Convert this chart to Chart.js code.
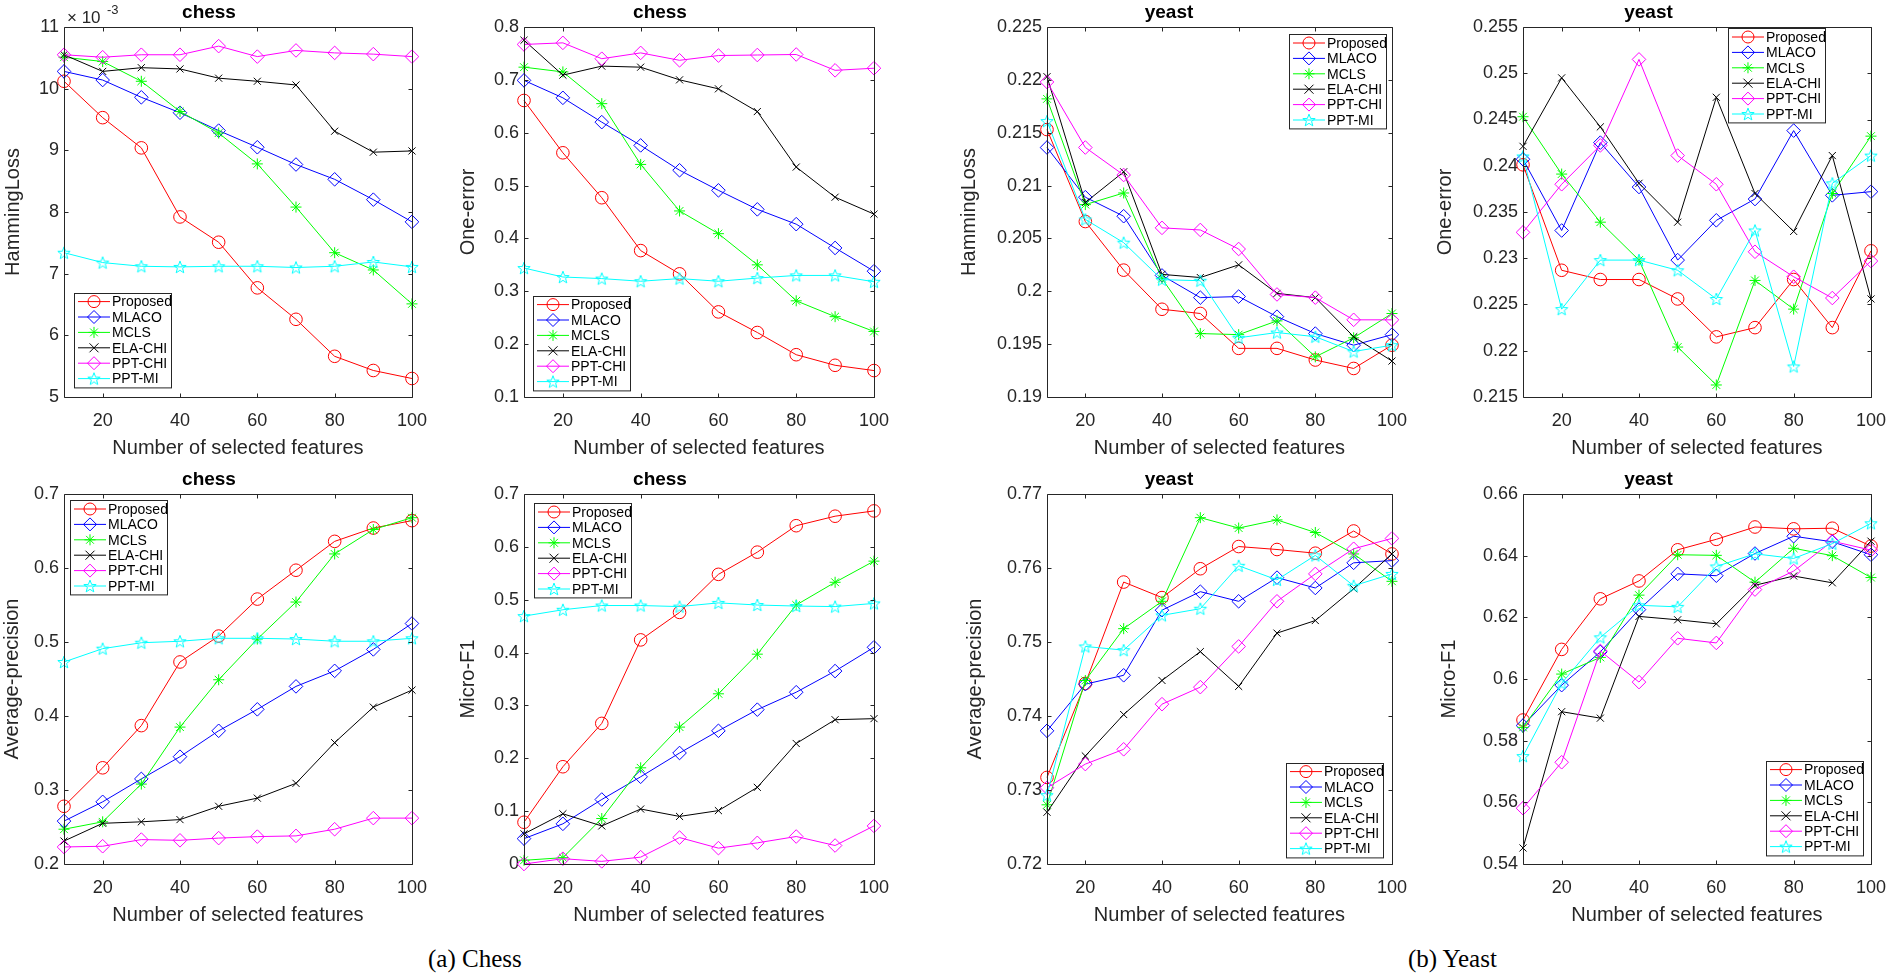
<!DOCTYPE html>
<html>
<head>
<meta charset="utf-8">
<script src="https://cdn.jsdelivr.net/npm/chart.js@4.4.1/dist/chart.umd.min.js"></script>
<style>
  body { margin: 0; background: #fff; width: 1902px; height: 977px; position: relative; overflow: hidden; }
  .panel { position: absolute; }
  .caption { position: absolute; font-family: "Liberation Serif", "Times New Roman", serif; font-size: 25px; color: #000; white-space: nowrap; }
</style>
</head>
<body>
<div class="panel"><canvas id="c1"></canvas></div>
<div class="panel"><canvas id="c2"></canvas></div>
<div class="panel"><canvas id="c3"></canvas></div>
<div class="panel"><canvas id="c4"></canvas></div>
<div class="panel"><canvas id="c5"></canvas></div>
<div class="panel"><canvas id="c6"></canvas></div>
<div class="panel"><canvas id="c7"></canvas></div>
<div class="panel"><canvas id="c8"></canvas></div>
<div class="caption" id="capA">(a) Chess</div>
<div class="caption" id="capB">(b) Yeast</div>
<script>
// ---- data ----
const features = [10, 20, 30, 40, 50, 60, 70, 80, 90, 100];
const xTicks = [20, 40, 60, 80, 100];
const methods = ['Proposed', 'MLACO', 'MCLS', 'ELA-CHI', 'PPT-CHI', 'PPT-MI'];

// chess, HammingLoss (axis shown as x 10^-3)
const chessHamming = [
  [10.12, 9.53, 9.04, 7.92, 7.51, 6.77, 6.26, 5.66, 5.43, 5.30],
  [10.28, 10.14, 9.86, 9.61, 9.32, 9.05, 8.77, 8.53, 8.20, 7.84],
  [10.51, 10.44, 10.12, 9.63, 9.28, 8.78, 8.08, 7.34, 7.06, 6.51],
  [10.55, 10.28, 10.34, 10.32, 10.17, 10.12, 10.06, 9.31, 8.97, 8.99],
  [10.55, 10.51, 10.55, 10.55, 10.69, 10.52, 10.62, 10.58, 10.56, 10.52],
  [7.34, 7.18, 7.12, 7.11, 7.12, 7.12, 7.10, 7.12, 7.19, 7.11]
];
// chess, One-error
const chessOneError = [
  [0.661, 0.562, 0.477, 0.377, 0.333, 0.261, 0.222, 0.180, 0.160, 0.150],
  [0.699, 0.666, 0.620, 0.576, 0.529, 0.491, 0.455, 0.427, 0.382, 0.338],
  [0.724, 0.715, 0.655, 0.540, 0.452, 0.409, 0.350, 0.282, 0.252, 0.224],
  [0.775, 0.709, 0.726, 0.724, 0.700, 0.683, 0.640, 0.535, 0.478, 0.446],
  [0.767, 0.770, 0.740, 0.751, 0.737, 0.746, 0.747, 0.748, 0.718, 0.722],
  [0.344, 0.327, 0.324, 0.319, 0.324, 0.319, 0.325, 0.330, 0.330, 0.318]
];
// yeast, HammingLoss
const yeastHamming = [
  [0.2153, 0.2066, 0.2020, 0.1983, 0.1979, 0.1946, 0.1946, 0.1935, 0.1927, 0.1949],
  [0.2136, 0.2089, 0.2071, 0.2015, 0.1994, 0.1995, 0.1976, 0.1960, 0.1949, 0.1959],
  [0.2182, 0.2082, 0.2093, 0.2012, 0.1960, 0.1959, 0.1972, 0.1938, 0.1956, 0.1979],
  [0.2203, 0.2084, 0.2113, 0.2016, 0.2013, 0.2025, 0.1998, 0.1994, 0.1957, 0.1934],
  [0.2198, 0.2136, 0.2110, 0.2060, 0.2058, 0.2040, 0.1997, 0.1994, 0.1973, 0.1973],
  [0.2161, 0.2068, 0.2046, 0.2011, 0.2010, 0.1956, 0.1961, 0.1957, 0.1943, 0.1949]
];
// yeast, One-error
const yeastOneError = [
  [0.2401, 0.2287, 0.2277, 0.2277, 0.2256, 0.2215, 0.2225, 0.2277, 0.2225, 0.2308],
  [0.2407, 0.2330, 0.2425, 0.2377, 0.2298, 0.2341, 0.2364, 0.2438, 0.2368, 0.2372],
  [0.2453, 0.2391, 0.2339, 0.2298, 0.2204, 0.2163, 0.2276, 0.2245, 0.2370, 0.2432],
  [0.2421, 0.2495, 0.2442, 0.2381, 0.2339, 0.2474, 0.2370, 0.2329, 0.2411, 0.2256],
  [0.2328, 0.2380, 0.2422, 0.2515, 0.2411, 0.2380, 0.2307, 0.2280, 0.2257, 0.2297],
  [0.2410, 0.2245, 0.2298, 0.2298, 0.2287, 0.2256, 0.2330, 0.2183, 0.2381, 0.2411]
];
// chess, Average-precision
const chessAvgPrec = [
  [0.278, 0.330, 0.387, 0.473, 0.508, 0.558, 0.597, 0.636, 0.654, 0.664],
  [0.258, 0.284, 0.315, 0.345, 0.380, 0.409, 0.440, 0.461, 0.490, 0.525],
  [0.247, 0.257, 0.308, 0.385, 0.449, 0.504, 0.554, 0.619, 0.652, 0.668],
  [0.231, 0.255, 0.257, 0.260, 0.278, 0.289, 0.309, 0.364, 0.412, 0.435],
  [0.223, 0.224, 0.233, 0.232, 0.235, 0.237, 0.238, 0.247, 0.262, 0.262],
  [0.473, 0.491, 0.499, 0.501, 0.505, 0.505, 0.504, 0.501, 0.501, 0.505]
];
// chess, Micro-F1
const chessMicroF1 = [
  [0.079, 0.184, 0.266, 0.424, 0.476, 0.548, 0.590, 0.640, 0.658, 0.668],
  [0.048, 0.076, 0.122, 0.165, 0.210, 0.252, 0.292, 0.325, 0.365, 0.410],
  [0.007, 0.012, 0.086, 0.182, 0.259, 0.322, 0.397, 0.490, 0.533, 0.573],
  [0.057, 0.095, 0.072, 0.104, 0.090, 0.101, 0.145, 0.228, 0.273, 0.275],
  [0.000, 0.010, 0.005, 0.013, 0.050, 0.030, 0.040, 0.052, 0.035, 0.072],
  [0.469, 0.481, 0.489, 0.489, 0.487, 0.494, 0.490, 0.488, 0.487, 0.493]
];
// yeast, Average-precision
const yeastAvgPrec = [
  [0.7317, 0.7444, 0.7581, 0.7560, 0.7599, 0.7629, 0.7625, 0.7620, 0.7650, 0.7619],
  [0.7380, 0.7443, 0.7455, 0.7543, 0.7568, 0.7555, 0.7587, 0.7573, 0.7607, 0.7610],
  [0.7280, 0.7448, 0.7518, 0.7555, 0.7668, 0.7654, 0.7665, 0.7648, 0.7619, 0.7582],
  [0.7270, 0.7346, 0.7402, 0.7448, 0.7487, 0.7440, 0.7512, 0.7529, 0.7572, 0.7619],
  [0.7303, 0.7335, 0.7355, 0.7416, 0.7439, 0.7494, 0.7555, 0.7592, 0.7626, 0.7640],
  [0.7293, 0.7494, 0.7489, 0.7536, 0.7545, 0.7603, 0.7584, 0.7617, 0.7576, 0.7592]
];
// yeast, Micro-F1
const yeastMicroF1 = [
  [0.5867, 0.6096, 0.6260, 0.6318, 0.6419, 0.6453, 0.6493, 0.6487, 0.6489, 0.6431],
  [0.5849, 0.5980, 0.6088, 0.6225, 0.6341, 0.6335, 0.6407, 0.6463, 0.6445, 0.6403],
  [0.5843, 0.6016, 0.6070, 0.6272, 0.6403, 0.6401, 0.6314, 0.6424, 0.6400, 0.6329],
  [0.5452, 0.5894, 0.5873, 0.6203, 0.6192, 0.6179, 0.6304, 0.6334, 0.6312, 0.6447],
  [0.5581, 0.5730, 0.6091, 0.5990, 0.6132, 0.6117, 0.6290, 0.6350, 0.6447, 0.6418],
  [0.5750, 0.5986, 0.6135, 0.6239, 0.6234, 0.6365, 0.6406, 0.6391, 0.6439, 0.6505]
];

// y tick labels of each panel
const yTicksChessHamming = [5, 6, 7, 8, 9, 10, 11];
const yTicksChessOneError = [0.1, 0.2, 0.3, 0.4, 0.5, 0.6, 0.7, 0.8];
const yTicksYeastHamming = [0.19, 0.195, 0.2, 0.205, 0.21, 0.215, 0.22, 0.225];
const yTicksYeastOneError = [0.215, 0.22, 0.225, 0.23, 0.235, 0.24, 0.245, 0.25, 0.255];
const yTicksChessAvgPrec = [0.2, 0.3, 0.4, 0.5, 0.6, 0.7];
const yTicksChessMicroF1 = [0, 0.1, 0.2, 0.3, 0.4, 0.5, 0.6, 0.7];
const yTicksYeastAvgPrec = [0.72, 0.73, 0.74, 0.75, 0.76, 0.77];
const yTicksYeastMicroF1 = [0.54, 0.56, 0.58, 0.6, 0.62, 0.64, 0.66];

// ---- styling ----
const FONT = '"Liberation Sans", Arial, Helvetica, sans-serif';
const AXIS_COLOR = '#262626';
const colors = ['#ff0000', '#0000ff', '#00ff00', '#000000', '#ff00ff', '#00ffff'];
const markerKinds = ['circle', 'diamond', 'asterisk', 'x', 'diamond', 'pentagram'];

// pentagram marker drawn once on a small canvas
function makePentagram(color, r) {
    const c = document.createElement('canvas');
    const s = Math.ceil(r * 2 + 3);
    c.width = s; c.height = s;
    const g = c.getContext('2d');
    g.strokeStyle = color;
    g.lineWidth = 1;
    g.beginPath();
    for (let k = 0; k < 10; k++) {
        const rr = k % 2 ? r * 0.42 : r;
        const ang = -Math.PI / 2 + k * Math.PI / 5;
        const px = s / 2 + rr * Math.cos(ang);
        const py = s / 2 + rr * Math.sin(ang) + 0.6;
        if (k === 0) g.moveTo(px, py); else g.lineTo(px, py);
    }
    g.closePath();
    g.stroke();
    return c;
}
const pentagramImg = makePentagram('#00ffff', 6.5);

function pointStyleFor(kind) {
    if (kind === 'circle') return { pointStyle: 'circle', pointRadius: 6.3 };
    if (kind === 'diamond') return { pointStyle: 'rectRot', pointRadius: 6.8 };
    if (kind === 'asterisk') return { pointStyle: 'star', pointRadius: 5.5 };
    if (kind === 'x') return { pointStyle: 'crossRot', pointRadius: 5 };
    return { pointStyle: pentagramImg, pointRadius: 6.5 };
}

// marker for the boxed legend, same shapes as the points
function drawMarker(ctx, kind, x, y, color) {
    ctx.save();
    ctx.strokeStyle = color;
    ctx.lineWidth = 1;
    ctx.beginPath();
    if (kind === 'circle') {
        ctx.arc(x, y, 6, 0, Math.PI * 2);
    } else if (kind === 'diamond') {
        ctx.moveTo(x, y - 6.5); ctx.lineTo(x + 6.5, y); ctx.lineTo(x, y + 6.5); ctx.lineTo(x - 6.5, y); ctx.closePath();
    } else if (kind === 'asterisk') {
        const r = 5.5, d = r * Math.SQRT1_2;
        ctx.moveTo(x - r, y); ctx.lineTo(x + r, y); ctx.moveTo(x, y - r); ctx.lineTo(x, y + r);
        ctx.moveTo(x - d, y - d); ctx.lineTo(x + d, y + d); ctx.moveTo(x - d, y + d); ctx.lineTo(x + d, y - d);
    } else if (kind === 'x') {
        const d = 4.5;
        ctx.moveTo(x - d, y - d); ctx.lineTo(x + d, y + d); ctx.moveTo(x - d, y + d); ctx.lineTo(x + d, y - d);
    } else {
        ctx.drawImage(pentagramImg, x - pentagramImg.width / 2, y - pentagramImg.height / 2);
    }
    ctx.stroke();
    ctx.restore();
}

// full axes box with inward tick marks (MATLAB style)
const axesBox = {
    id: 'axesBox',
    afterDatasetsDraw(chart) {
        const { ctx, chartArea: a, scales: { x, y } } = chart;
        const L = Math.round(a.left) + 0.5, R = Math.round(a.right) + 0.5;
        const T = Math.round(a.top) + 0.5, B = Math.round(a.bottom) + 0.5;
        ctx.save();
        ctx.strokeStyle = AXIS_COLOR;
        ctx.lineWidth = 1;
        ctx.beginPath();
        ctx.rect(L, T, R - L, B - T);
        x.ticks.forEach(t => {
            const px = Math.round(x.getPixelForValue(t.value)) + 0.5;
            ctx.moveTo(px, B); ctx.lineTo(px, B - 4);
            ctx.moveTo(px, T); ctx.lineTo(px, T + 4);
        });
        y.ticks.forEach(t => {
            const py = Math.round(y.getPixelForValue(t.value)) + 0.5;
            ctx.moveTo(L, py); ctx.lineTo(L + 4, py);
            ctx.moveTo(R, py); ctx.lineTo(R - 4, py);
        });
        ctx.stroke();
        ctx.restore();
    }
};

// boxed legend placed inside a corner of the axes
const boxLegend = {
    id: 'boxLegend',
    afterDraw(chart, args, opts) {
        const { ctx, chartArea: a } = chart;
        const w = 97, rowH = 15.4, h = rowH * 6 + 2;
        const left = opts.corner[1] === 'l' ? a.left + opts.dx : a.right - opts.dx - w;
        const top = opts.corner[0] === 't' ? a.top + opts.dy : a.bottom - opts.dy - h;
        ctx.save();
        ctx.fillStyle = '#fff';
        ctx.fillRect(left, top, w, h);
        ctx.strokeStyle = AXIS_COLOR;
        ctx.lineWidth = 1;
        ctx.strokeRect(Math.round(left) + 0.5, Math.round(top) + 0.5, w, h);
        ctx.font = '14px ' + FONT;
        ctx.textBaseline = 'middle';
        ctx.fillStyle = '#000';
        chart.data.datasets.forEach((ds, i) => {
            const cy = top + 9 + i * rowH;
            ctx.beginPath();
            ctx.strokeStyle = ds.borderColor;
            ctx.moveTo(left + 4, cy); ctx.lineTo(left + 36, cy);
            ctx.stroke();
            drawMarker(ctx, markerKinds[i], left + 20, cy, ds.borderColor);
            ctx.fillStyle = '#000';
            ctx.fillText(ds.label, left + 38, cy + 1);
        });
        ctx.restore();
    }
};

// "x 10^-3" multiplier above the first axes
const expLabel = {
    id: 'expLabel',
    afterDraw(chart, args, opts) {
        if (!opts.show) return;
        const { ctx, chartArea: a } = chart;
        ctx.save();
        ctx.fillStyle = AXIS_COLOR;
        ctx.textBaseline = 'alphabetic';
        ctx.font = '17px ' + FONT;
        ctx.fillText('\u00d7 10', a.left + 3, a.top - 4);
        ctx.font = '13px ' + FONT;
        ctx.fillText('-3', a.left + 43, a.top - 13);
        ctx.restore();
    }
};

function fmtTick(v) {
    return String(+v.toFixed(4));
}

// ---- panel layout ----
const ROW1_TOP = 0, ROW2_TOP = 467, CANVAS_H = 460;
const panels = [
    { id: 'c1', left: 0,    top: ROW1_TOP, yw: 64,  yPad: 1,  plotW: 354, title: 'chess', yLabel: 'HammingLoss',       data: chessHamming,  yTicks: yTicksChessHamming,  legend: { corner: 'bl', dx: 10, dy: 10 }, exp: true },
    { id: 'c2', left: 440,  top: ROW1_TOP, yw: 84,  yPad: 16, plotW: 356, title: 'chess', yLabel: 'One-error',         data: chessOneError, yTicks: yTicksChessOneError, legend: { corner: 'bl', dx: 9,  dy: 7 } },
    { id: 'c3', left: 940,  top: ROW1_TOP, yw: 107, yPad: 17, plotW: 351, title: 'yeast', yLabel: 'HammingLoss',       data: yeastHamming,  yTicks: yTicksYeastHamming,  legend: { corner: 'tr', dx: 6,  dy: 7 } },
    { id: 'c4', left: 1420, top: ROW1_TOP, yw: 103, yPad: 13, plotW: 354, title: 'yeast', yLabel: 'One-error',         data: yeastOneError, yTicks: yTicksYeastOneError, legend: { corner: 'tr', dx: 46, dy: 1 } },
    { id: 'c5', left: 0,    top: ROW2_TOP, yw: 64,  yPad: 0,  plotW: 354, title: 'chess', yLabel: 'Average-precision', data: chessAvgPrec,  yTicks: yTicksChessAvgPrec,  legend: { corner: 'tl', dx: 6,  dy: 6 } },
    { id: 'c6', left: 440,  top: ROW2_TOP, yw: 84,  yPad: 16, plotW: 356, title: 'chess', yLabel: 'Micro-F1',          data: chessMicroF1,  yTicks: yTicksChessMicroF1,  legend: { corner: 'tl', dx: 10, dy: 9 } },
    { id: 'c7', left: 940,  top: ROW2_TOP, yw: 107, yPad: 23, plotW: 351, title: 'yeast', yLabel: 'Average-precision', data: yeastAvgPrec,  yTicks: yTicksYeastAvgPrec,  legend: { corner: 'br', dx: 9,  dy: 7 } },
    { id: 'c8', left: 1420, top: ROW2_TOP, yw: 103, yPad: 17, plotW: 354, title: 'yeast', yLabel: 'Micro-F1',          data: yeastMicroF1,  yTicks: yTicksYeastMicroF1,  legend: { corner: 'br', dx: 8,  dy: 9 } }
];
const PAD_RIGHT = 22, X_AXIS_H = 63;

function makeChart(p) {
    const canvas = document.getElementById(p.id);
    const wrap = canvas.parentElement;
    const width = p.yw + p.plotW + PAD_RIGHT;
    wrap.style.left = p.left + 'px';
    wrap.style.top = p.top + 'px';
    canvas.width = width;
    canvas.height = CANVAS_H;
    canvas.style.width = width + 'px';
    canvas.style.height = CANVAS_H + 'px';

    const datasets = methods.map((m, i) => Object.assign({
        label: m,
        data: features.map((f, j) => ({ x: f, y: p.data[i][j] })),
        borderColor: colors[i],
        borderWidth: 1,
        pointBorderColor: colors[i],
        pointBackgroundColor: 'rgba(0,0,0,0)',
        pointBorderWidth: 1,
        fill: false,
        tension: 0,
        clip: false,
        order: methods.length - i
    }, pointStyleFor(markerKinds[i])));

    const yMin = p.yTicks[0], yMax = p.yTicks[p.yTicks.length - 1];

    return new Chart(canvas, {
        type: 'line',
        data: { datasets },
        options: {
            responsive: false,
            animation: false,
            devicePixelRatio: 1,
            layout: { padding: { left: 0, right: PAD_RIGHT, top: 0, bottom: 0 } },
            plugins: {
                legend: { display: false },
                tooltip: { enabled: false },
                title: {
                    display: true,
                    text: p.title,
                    color: '#000',
                    font: { family: FONT, size: 19, weight: 'bold' },
                    padding: { top: 1, bottom: 3.2 }
                },
                boxLegend: p.legend,
                expLabel: { show: !!p.exp }
            },
            scales: {
                x: {
                    type: 'linear',
                    min: 10,
                    max: 100,
                    grid: { display: false, drawTicks: false },
                    border: { display: false },
                    afterBuildTicks: s => { s.ticks = xTicks.map(v => ({ value: v })); },
                    afterFit: s => { s.height = X_AXIS_H; },
                    ticks: {
                        autoSkip: false,
                        maxRotation: 0,
                        padding: 13,
                        color: AXIS_COLOR,
                        font: { family: FONT, size: 18 }
                    },
                    title: {
                        display: true,
                        text: 'Number of selected features',
                        color: AXIS_COLOR,
                        font: { family: FONT, size: 20 },
                        padding: { top: 0, bottom: 0 }
                    }
                },
                y: {
                    type: 'linear',
                    min: yMin,
                    max: yMax,
                    grid: { display: false, drawTicks: false },
                    border: { display: false },
                    afterBuildTicks: s => { s.ticks = p.yTicks.map(v => ({ value: v })); },
                    afterFit: s => { s.width = p.yw; },
                    ticks: {
                        autoSkip: false,
                        padding: 5,
                        color: AXIS_COLOR,
                        font: { family: FONT, size: 18 },
                        callback: v => fmtTick(v)
                    },
                    title: {
                        display: true,
                        text: p.yLabel,
                        color: AXIS_COLOR,
                        font: { family: FONT, size: 20 },
                        padding: { top: p.yPad, bottom: 0 }
                    }
                }
            }
        },
        plugins: [axesBox, boxLegend, expLabel]
    });
}

panels.forEach(makeChart);

// figure captions
const capA = document.getElementById('capA');
const capB = document.getElementById('capB');
capA.style.left = '428px'; capA.style.top = '945px';
capB.style.left = '1408px'; capB.style.top = '945px';
</script>
</body>
</html>
